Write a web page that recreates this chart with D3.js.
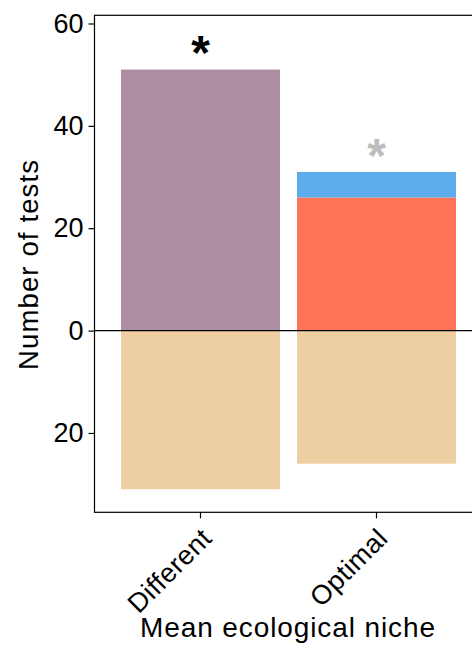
<!DOCTYPE html>
<html><head><meta charset="utf-8">
<script src="https://cdn.jsdelivr.net/npm/d3@7"></script>
<style>body{margin:0;background:#fff}svg{display:block}text{font-family:"Liberation Sans",Arial,sans-serif}</style>
</head><body>
<svg id="c" width="472" height="645"></svg>
<script>
const categories = ["Different", "Optimal"];
const positiveLower = [51, 26];   // purple / red segment
const positiveUpper = [0, 5];     // blue segment stacked on top
const negativeValues = [31, 26];  // tan bars below zero
const lowerColors = ["#AD8DA0", "#FF7357"];
const upperColor = "#5DACEC";
const negColor = "#EDCFA2";
const yTicks = [60, 40, 20, 0, -20];
const yTickLabels = ["60", "40", "20", "0", "20"];
const stars = [{cat: "Different", color: "#000000"}, {cat: "Optimal", color: "#BDBDBD"}];
const xLabelLengths = [105, 96];

const svg = d3.select("#c");
const pL = 94.5, pT = 15.3, pB = 512.3, pR = 482.5;

const x = d3.scaleBand().domain(categories).range([pL, pR])
  .paddingInner(0.0966).paddingOuter(0.1506);
const y = d3.scaleLinear().domain([-35.5, 61.6]).range([pB, pT]);

// bars
categories.forEach((c, i) => {
  svg.append("rect").attr("x", x(c)).attr("width", x.bandwidth())
    .attr("y", y(positiveLower[i])).attr("height", y(0) - y(positiveLower[i]))
    .attr("fill", lowerColors[i]);
  if (positiveUpper[i] > 0) {
    const t = positiveLower[i] + positiveUpper[i];
    svg.append("rect").attr("x", x(c)).attr("width", x.bandwidth())
      .attr("y", y(t)).attr("height", y(positiveLower[i]) - y(t))
      .attr("fill", upperColor);
  }
  svg.append("rect").attr("x", x(c)).attr("width", x.bandwidth())
    .attr("y", y(0)).attr("height", y(-negativeValues[i]) - y(0))
    .attr("fill", negColor);
});

// zero line
svg.append("line").attr("x1", pL).attr("x2", pR).attr("y1", y(0)).attr("y2", y(0))
  .attr("stroke", "#000").attr("stroke-width", 1.2);

// frame
svg.append("rect").attr("x", pL).attr("y", pT).attr("width", pR - pL).attr("height", pB - pT)
  .attr("fill", "none").attr("stroke", "#000").attr("stroke-width", 1.2);

// y axis
const ya = svg.append("g").attr("transform", `translate(${pL},0)`)
  .call(d3.axisLeft(y).tickValues(yTicks).tickSize(6).tickPadding(5)
    .tickFormat((d, i) => yTickLabels[i]));
ya.select(".domain").remove();
ya.selectAll("line").attr("stroke-width", 1.2);
ya.selectAll("text").attr("font-size", 27).attr("fill", "#000")
  .style("font-family", '"Liberation Sans",Arial,sans-serif');

// x axis
const xa = svg.append("g").attr("transform", `translate(0,${pB})`)
  .call(d3.axisBottom(x).tickSize(6).tickPadding(4));
xa.select(".domain").remove();
xa.selectAll("line").attr("stroke-width", 1.2);
xa.selectAll("text").attr("font-size", 27).attr("fill", "#000")
  .style("font-family", '"Liberation Sans",Arial,sans-serif')
  .attr("text-anchor", "end").attr("dy", null).attr("y", 0)
  .attr("textLength", (d, i) => xLabelLengths[i]).attr("lengthAdjust", "spacing")
  .attr("transform", "translate(12.5,28) rotate(-45)");

// stars
svg.append("text").attr("x", x("Different") + x.bandwidth() / 2).attr("y", 69)
  .attr("text-anchor", "middle").attr("font-size", 48).attr("font-weight", "bold")
  .attr("fill", stars[0].color).text("*");
svg.append("text").attr("x", x("Optimal") + x.bandwidth() / 2).attr("y", 172)
  .attr("text-anchor", "middle").attr("font-size", 48).attr("font-weight", "bold")
  .attr("fill", stars[1].color).text("*");

// axis titles
svg.append("text").attr("x", 287.5).attr("y", 637).attr("text-anchor", "middle")
  .attr("font-size", 28).attr("fill", "#000")
  .attr("textLength", 295).attr("lengthAdjust", "spacing").text("Mean ecological niche");
svg.append("text").attr("transform", "translate(38,265) rotate(-90)").attr("text-anchor", "middle")
  .attr("font-size", 27.5).attr("fill", "#000")
  .attr("textLength", 210).attr("lengthAdjust", "spacing").text("Number of tests");
</script>
</body></html>
